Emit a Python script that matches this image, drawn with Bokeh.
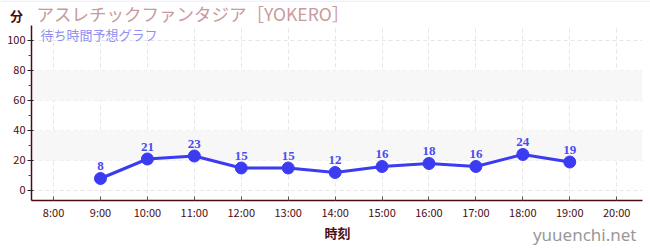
from bokeh.plotting import figure
from bokeh.layouts import column
from bokeh.models import ColumnDataSource, Label, BoxAnnotation, FixedTicker, CustomJSTickFormatter, LabelSet, Span
from bokeh.embed import file_html
from bokeh.resources import INLINE

hours = [9, 10, 11, 12, 13, 14, 15, 16, 17, 18, 19]
waits = [8, 21, 23, 15, 15, 12, 16, 18, 16, 24, 19]
x_ticks = [8, 9, 10, 11, 12, 13, 14, 15, 16, 17, 18, 19, 20]
y_ticks = [0, 20, 40, 60, 80, 100]
title_text = "アスレチックファンタジア［YOKERO］"
subtitle_text = "待ち時間予想グラフ"
unit_text = "分"
xlabel_text = "時刻"
site_text = "yuuenchi.net"

JP = "Noto Sans CJK JP"
AX = "#4a0d12"

HEAD_H = 25
FOOT_H = 28
W = 650

def strip(fig):
    fig.axis.visible = False
    fig.grid.visible = False
    fig.outline_line_color = None
    fig.background_fill_color = "white"
    fig.border_fill_color = "white"

# header figure: x px from left, y px from top
head = figure(width=W, height=HEAD_H, output_backend="svg", toolbar_location=None,
              x_range=(0, W), y_range=(HEAD_H, 0), min_border=0, title=None, frame_align=False)
strip(head)
head.add_layout(Span(location=0.5, dimension="width", line_color="#e2e2f6", line_width=1))

def hl(fig, px, py, text, **kw):
    fig.add_layout(Label(x=px, y=py, text=text, text_baseline="middle", **kw))

hl(head, 16, 15, unit_text, text_align="center", text_font=JP, text_font_size="13px",
   text_font_style="bold", text_color=AX)
hl(head, 36, 12.6, title_text, text_align="left", text_font=JP, text_font_size="17.5px", text_color="#c99a9c")

p = figure(width=W, height=250 - HEAD_H - FOOT_H, output_backend="svg", toolbar_location=None,
           x_range=(7.53, 20.55), y_range=(-6.67, (190 - HEAD_H) / 1.5), title=None, frame_align=False,
           min_border_left=31, min_border_right=8, min_border_top=0, min_border_bottom=22)
p.background_fill_color = "white"
p.border_fill_color = "white"
p.outline_line_color = None

for lo, hi in [(20, 40), (60, 80)]:
    p.add_layout(BoxAnnotation(bottom=lo, top=hi, fill_color="#f7f7f7", fill_alpha=1.0, line_color=None, level="underlay"))

p.xgrid.ticker = FixedTicker(ticks=x_ticks)
p.ygrid.ticker = FixedTicker(ticks=y_ticks)
for g in (p.xgrid, p.ygrid):
    g.grid_line_color = "#e6e6e6"
    g.grid_line_dash = "4 3"
    g.grid_line_width = 1

xa = p.xaxis[0]
xa.ticker = FixedTicker(ticks=x_ticks)
xa.formatter = CustomJSTickFormatter(code="return tick + ':00';")
xa.axis_line_color = AX
xa.axis_line_width = 1.5
xa.major_tick_line_color = "#555"
xa.major_tick_in = 4
xa.major_tick_out = 0
xa.minor_tick_line_color = None
xa.major_label_text_font = JP
xa.major_label_text_font_size = "11px"
xa.major_label_text_color = AX
xa.major_label_standoff = 3

ya = p.yaxis[0]
ya.ticker = FixedTicker(ticks=y_ticks, minor_ticks=[10, 30, 50, 70, 90])
ya.axis_line_color = AX
ya.axis_line_width = 1.5
ya.major_tick_line_color = "#222"
ya.major_tick_in = 2
ya.major_tick_out = 4
ya.minor_tick_line_color = "#d01010"
ya.minor_tick_in = 0
ya.minor_tick_out = 3
ya.major_label_text_font = JP
ya.major_label_text_font_size = "11px"
ya.major_label_text_color = AX
ya.major_label_standoff = 2

src = ColumnDataSource(dict(x=hours, y=waits, t=[str(v) for v in waits]))
p.line("x", "y", source=src, line_color="#3b3bf2", line_width=3)
p.scatter("x", "y", source=src, size=12, fill_color="#3b3bf2", line_color="#3b3bf2")
p.add_layout(LabelSet(x="x", y="y", text="t", source=src, y_offset=8,
                      text_align="center", text_baseline="bottom",
                      text_font=JP, text_font_size="13px", text_font_style="bold",
                      text_color="#4a4af0"))

sub_x = 8 + (40 - 53) / 47.0
sub_y = (190 - 34.2) / 1.5
p.add_layout(Label(x=sub_x, y=sub_y, text=subtitle_text, text_align="left", text_baseline="middle",
                   text_font=JP, text_font_size="13px", text_color="#8f8ff5"))

foot = figure(width=W, height=FOOT_H, output_backend="svg", toolbar_location=None,
              x_range=(0, W), y_range=(250, 250 - FOOT_H), min_border=0, title=None, frame_align=False)
strip(foot)
hl(foot, 337, 232, xlabel_text, text_align="center", text_font=JP, text_font_size="13px",
   text_font_style="bold", text_color=AX)
hl(foot, 636, 234, site_text, text_align="right", text_font="Noto Sans",
   text_font_size="17px", text_color="#999999")

layout = column(head, p, foot, spacing=0)
open("out.html", "w").write(file_html(layout, INLINE))
